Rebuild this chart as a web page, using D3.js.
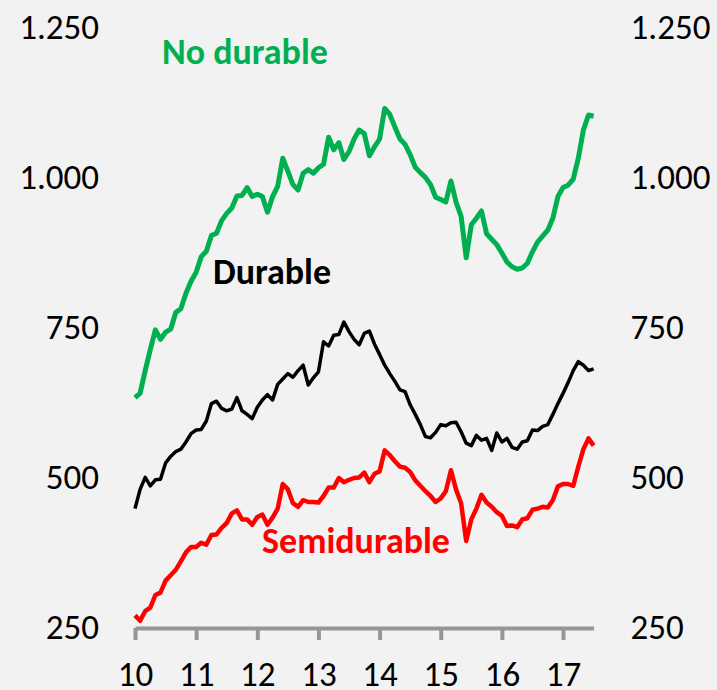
<!DOCTYPE html>
<html>
<head>
<meta charset="utf-8">
<style>
  body { margin: 0; background: #f2f2f2; }
  svg { display: block; font-family: Carlito, Lato, sans-serif; }
</style>
</head>
<body>
<svg width="717" height="690"></svg>
<script src="https://d3js.org/d3.v7.min.js"></script>
<script>
// monthly, Jan 2010 .. Jul 2017
var noDurable = [634, 641, 679, 714, 747, 731, 743, 748, 776, 782, 808, 828,
    843, 869, 878, 904, 908, 929, 941, 950, 970, 971, 984, 969,
    973, 969, 943, 969, 986, 1033, 1011, 989, 980, 1008, 1014, 1008,
    1017, 1023, 1068, 1047, 1059, 1031, 1044, 1065, 1080, 1074, 1037, 1052,
    1065, 1116, 1106, 1085, 1065, 1056, 1039, 1018, 1009, 1001, 989, 968,
    964, 960, 995, 960, 936, 867, 922, 933, 945, 907, 898, 889,
    875, 860, 852, 848, 850, 858, 877, 893, 903, 913, 933, 969,
    984, 988, 998, 1033, 1080, 1105, 1103];
var durable = [449, 481, 501, 487, 497, 498, 525, 536, 544, 548, 560, 574,
    580, 581, 595, 624, 628, 616, 612, 615, 634, 612, 606, 599,
    618, 630, 639, 630, 656, 665, 674, 668, 679, 688, 655, 667,
    677, 727, 720, 738, 739, 760, 744, 731, 722, 741, 745, 723,
    706, 688, 674, 661, 647, 644, 622, 606, 589, 569, 567, 576,
    589, 587, 592, 593, 577, 558, 554, 571, 563, 566, 546, 575,
    560, 566, 551, 548, 560, 562, 580, 579, 586, 589, 606, 624,
    641, 659, 679, 694, 688, 679, 682];
var semidurable = [271, 262, 278, 284, 305, 309, 329, 338, 347, 361, 376, 385,
    385, 392, 389, 405, 406, 417, 425, 441, 446, 431, 431, 422,
    435, 439, 422, 434, 449, 490, 481, 458, 452, 463, 460, 460,
    459, 470, 484, 484, 500, 493, 497, 500, 501, 509, 493, 507,
    511, 546, 538, 528, 519, 517, 510, 496, 487, 478, 470, 460,
    466, 478, 513, 481, 458, 395, 431, 449, 472, 459, 452, 443,
    437, 420, 421, 418, 431, 433, 447, 449, 452, 451, 463, 486,
    490, 490, 487, 519, 548, 566, 554];
var yearTicks = [10, 11, 12, 13, 14, 15, 16, 17];
var valueTicks = [250, 500, 750, 1000, 1250];

var svg = d3.select("svg");

var x = d3.scaleLinear().domain([10, 17.5]).range([135, 593.6]);
var y = d3.scaleLinear().domain([250, 1250]).range([628, 28]);

var fmt = d3.formatLocale({ decimal: ",", thousands: ".", grouping: [3], currency: ["", ""] }).format(",d");

// left / right value labels
var left = svg.append("g")
    .attr("transform", "translate(135,0)")
    .call(d3.axisLeft(y).tickValues(valueTicks).tickSize(0).tickPadding(36).tickFormat(fmt));
var right = svg.append("g")
    .attr("transform", "translate(593.6,0)")
    .call(d3.axisRight(y).tickValues(valueTicks).tickSize(0).tickPadding(37).tickFormat(fmt));
[left, right].forEach(function (g) {
    g.select(".domain").remove();
    g.selectAll("text").style("font-family", "Carlito, Lato, sans-serif").style("font-size", "35px")
        .attr("dy", "0.29em").attr("fill", "#000");
});

// bottom axis
var bottom = svg.append("g")
    .attr("transform", "translate(0,628)")
    .call(d3.axisBottom(x).tickValues(yearTicks).tickSize(12).tickSizeOuter(0).tickPadding(21).tickFormat(d3.format("d")));
bottom.select(".domain").attr("stroke", "#969696").attr("stroke-width", 4);
bottom.selectAll(".tick line").attr("stroke", "#969696").attr("stroke-width", 4);
bottom.selectAll("text").style("font-family", "Carlito, Lato, sans-serif").style("font-size", "35px").attr("fill", "#000");

var line = d3.line()
    .x(function (d, i) { return x(10 + i / 12); })
    .y(function (d) { return y(d); });

var series = [
    { values: semidurable, color: "#ff0000", width: 4.5 },
    { values: durable, color: "#000000", width: 3.5 },
    { values: noDurable, color: "#00b050", width: 5 }
];
series.forEach(function (s) {
    svg.append("path")
        .datum(s.values)
        .attr("d", line)
        .attr("fill", "none")
        .attr("stroke", s.color)
        .attr("stroke-width", s.width)
        .attr("stroke-linejoin", "round");
});

// series labels
var labels = [
    { text: "No durable", x: 162, y: 64, color: "#00b050" },
    { text: "Durable", x: 213, y: 284, color: "#000000" },
    { text: "Semidurable", x: 262, y: 553, color: "#ff0000" }
];
svg.selectAll(".lbl")
    .data(labels)
    .enter().append("text")
    .attr("class", "lbl")
    .attr("x", function (d) { return d.x; })
    .attr("y", function (d) { return d.y; })
    .attr("fill", function (d) { return d.color; })
    .style("font-size", "36px")
    .style("font-weight", "bold")
    .text(function (d) { return d.text; });
</script>
</body>
</html>
